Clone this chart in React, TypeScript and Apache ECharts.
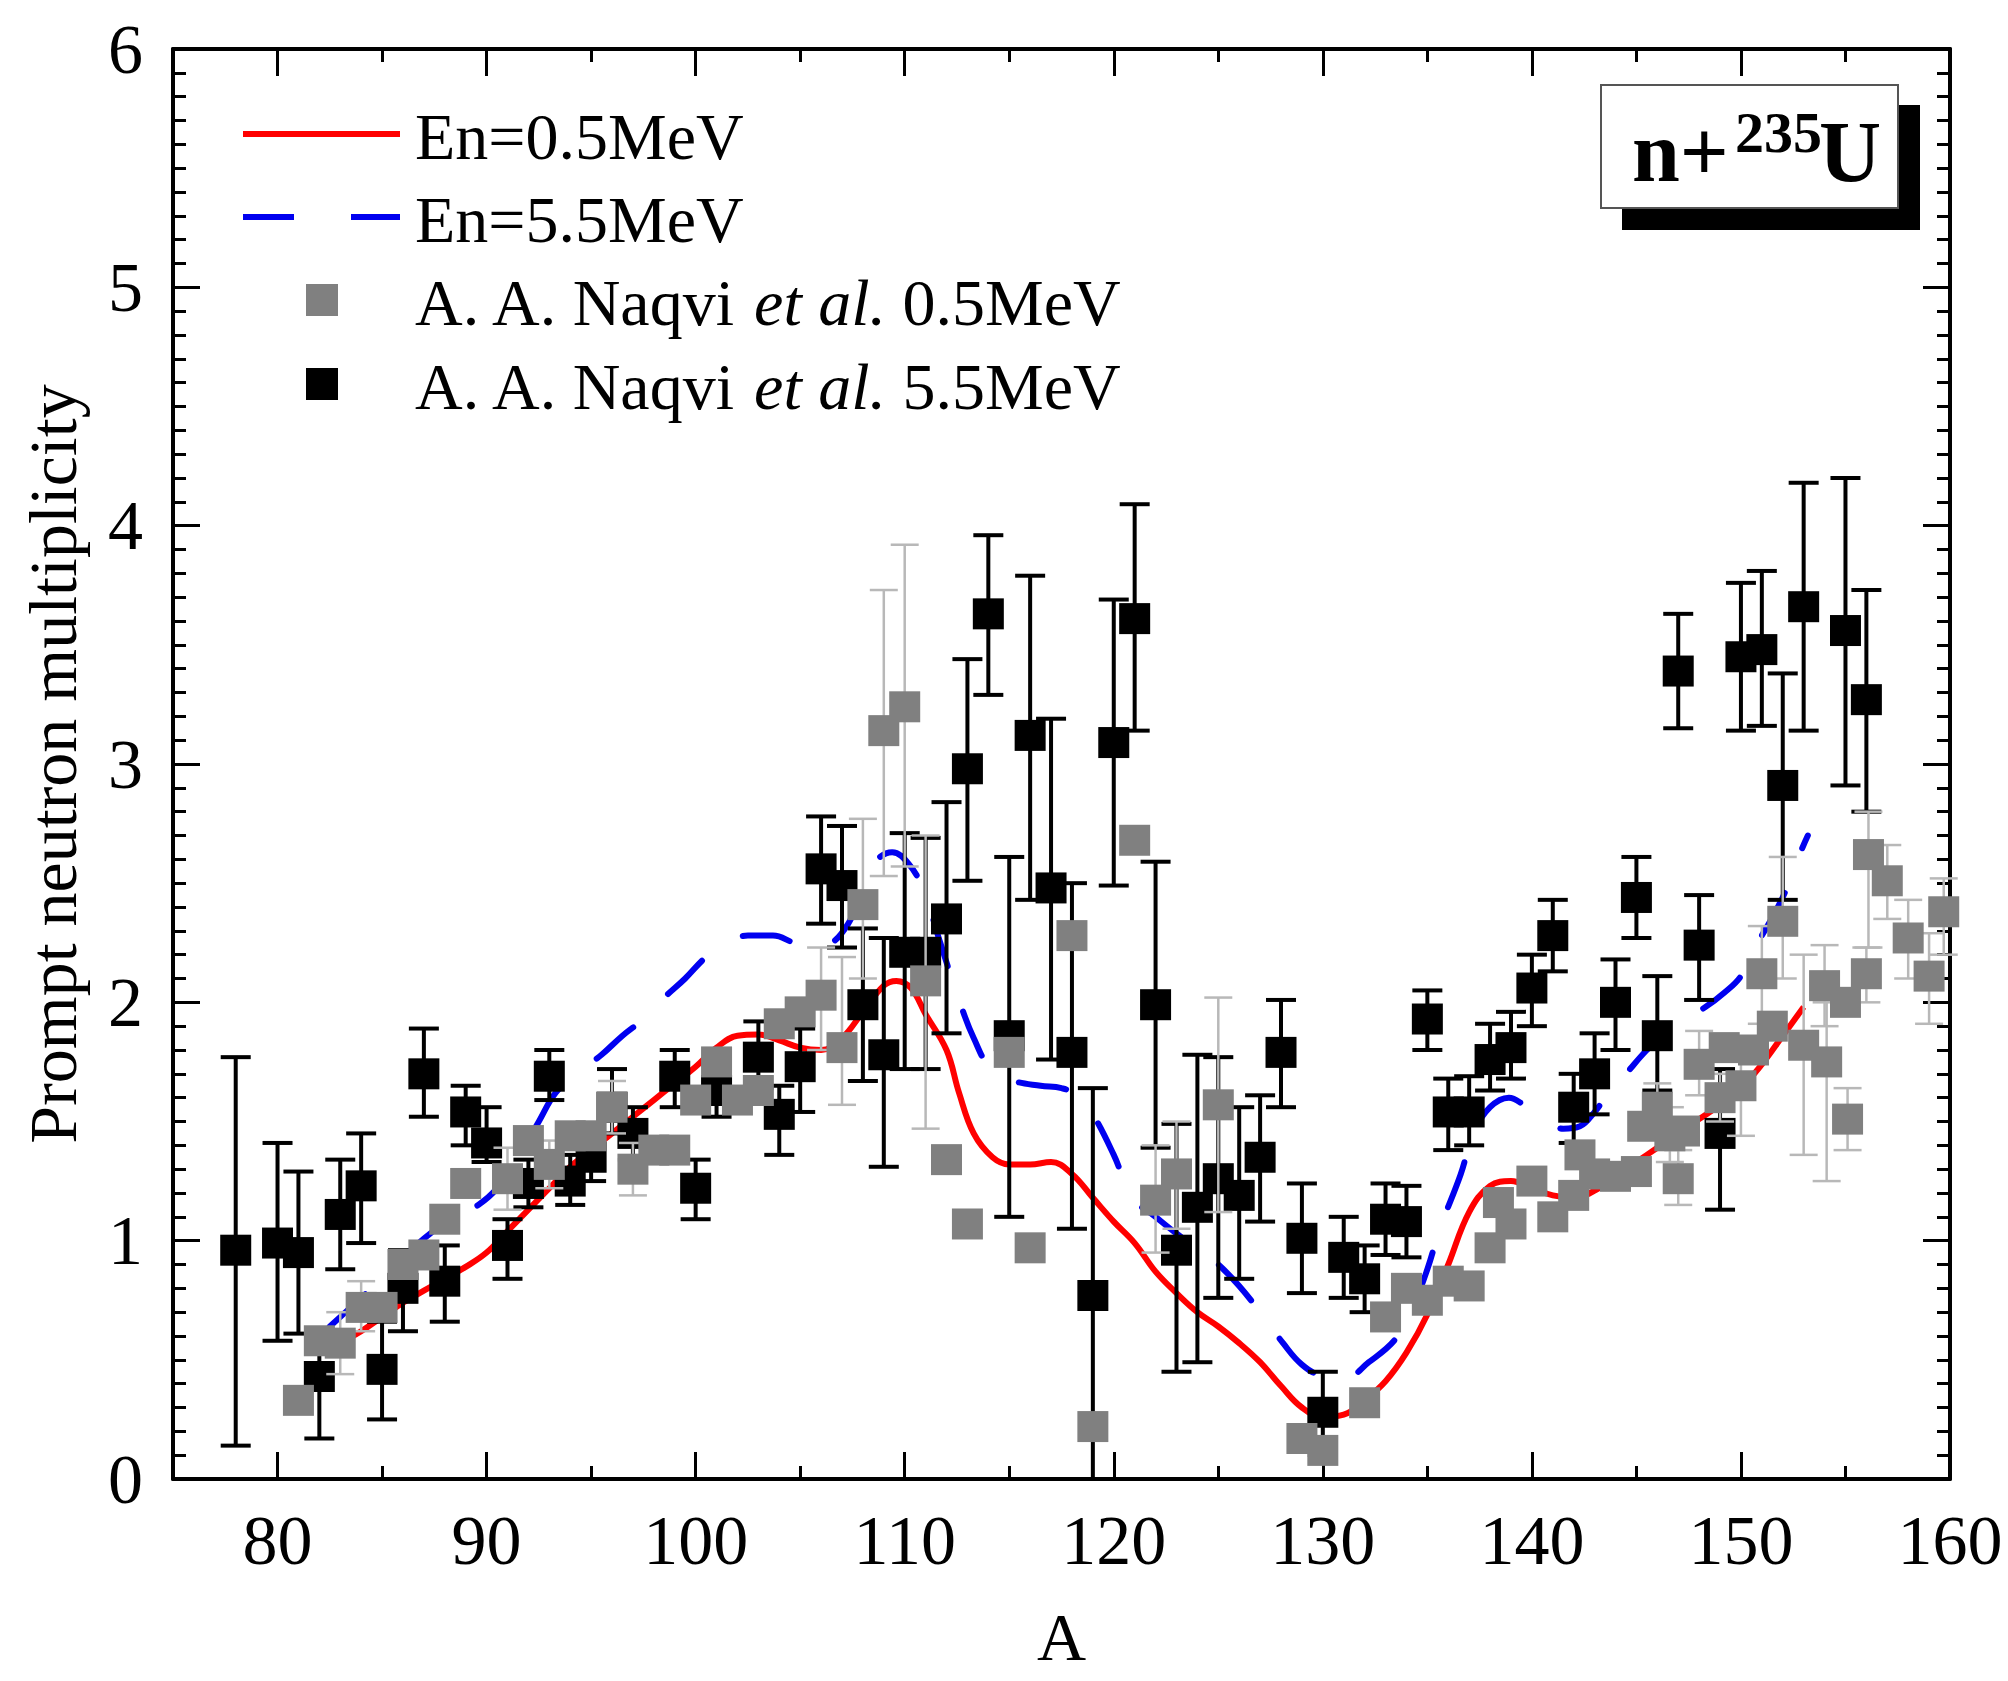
import { useEffect, useRef } from "react";
import * as echarts from "echarts";

const FONT = "'Liberation Serif', 'Times New Roman', serif";

const X_MAJOR = [80, 90, 100, 110, 120, 130, 140, 150, 160];

// En = 0.5 MeV model curve [A, nu]
const redCurve = [
  [82.3, 0.53], [83, 0.57], [84, 0.62], [85, 0.68], [86, 0.74], [87, 0.79], [88, 0.84], [89, 0.89],
  [90, 0.95], [91, 1.04], [92, 1.13], [93, 1.22], [94, 1.31], [95, 1.38], [96, 1.45], [97, 1.52],
  [98, 1.59], [99, 1.66], [100, 1.73], [101, 1.81], [102, 1.86], [103, 1.865], [104, 1.84], [105, 1.81],
  [106, 1.8], [107, 1.85], [108, 1.96], [109, 2.07], [109.6, 2.09], [110.3, 2.06], [111, 1.95],
  [112, 1.8], [112.6, 1.62], [113.3, 1.45], [114.2, 1.35], [115, 1.32], [116, 1.32], [117, 1.33],
  [118, 1.28], [119, 1.18], [120, 1.08], [121, 0.99], [122, 0.87], [123, 0.78], [124, 0.7], [125, 0.64],
  [126, 0.57], [127, 0.49], [128, 0.39], [129, 0.3], [130, 0.26], [131, 0.27], [132, 0.33], [133, 0.41],
  [134, 0.53], [135, 0.69], [136, 0.9], [137, 1.12], [138, 1.23], [139, 1.25], [140, 1.22], [141, 1.19],
  [142, 1.18], [143, 1.21], [144, 1.27], [145, 1.33], [146, 1.39], [147, 1.45], [148, 1.51], [149, 1.57],
  [150, 1.64], [151, 1.74], [152, 1.86], [153, 1.98],
];

// En = 5.5 MeV model curve [A, nu]
const blueCurve = [
  [82.5, 0.64], [83.5, 0.72], [84.5, 0.8], [86, 0.93], [87.3, 1.03], [88.5, 1.1], [89.6, 1.15],
  [90.5, 1.22], [91.5, 1.35], [92.5, 1.5], [93.3, 1.62], [94.3, 1.7], [95.5, 1.78], [96.5, 1.86],
  [97.5, 1.93], [98.5, 2.02], [99.5, 2.1], [100.5, 2.19], [101.5, 2.25], [102.5, 2.28], [103.7, 2.28],
  [104.7, 2.25], [105.5, 2.23], [106.3, 2.24], [107.3, 2.33], [108, 2.48], [108.6, 2.59], [109.4, 2.63],
  [110.2, 2.58], [110.9, 2.47], [111.7, 2.25], [112.6, 2.01], [113.3, 1.85], [114.2, 1.71], [115.2, 1.67],
  [116.5, 1.65], [117.5, 1.64], [118.3, 1.61], [119, 1.53], [120, 1.36], [120.9, 1.18], [122, 1.1],
  [123, 1.03], [124, 0.97], [125, 0.9], [126, 0.81], [127, 0.7], [128.1, 0.57], [129, 0.48], [130, 0.43],
  [131, 0.42], [132.2, 0.49], [133.5, 0.59], [134.3, 0.72], [135, 0.88], [135.6, 1.05], [136.6, 1.28],
  [137.2, 1.45], [138, 1.56], [138.9, 1.6], [139.6, 1.57], [140.5, 1.51], [141.5, 1.47], [142.3, 1.48],
  [143, 1.54], [143.6, 1.61], [144.5, 1.7], [145.5, 1.8], [146.4, 1.87], [147.3, 1.93], [148.3, 1.98],
  [149.2, 2.04], [150, 2.11], [150.6, 2.22], [151.4, 2.34], [152.1, 2.46], [152.9, 2.64], [153.2, 2.7],
];

// A. A. Naqvi et al. 5.5 MeV  [A, nu, low, high]
const naqvi55 = [
  [78, 0.96, 0.14, 1.77], [80, 0.99, 0.58, 1.41], [81, 0.95, 0.61, 1.29], [82, 0.43, 0.17, 0.63],
  [83, 1.11, 0.88, 1.34], [84, 1.23, 0.99, 1.45], [85, 0.46, 0.25, 0.66], [86, 0.8, 0.62, 0.96],
  [87, 1.7, 1.52, 1.89], [88, 0.83, 0.66, 0.98], [89, 1.54, 1.4, 1.65], [90, 1.41, 1.33, 1.56],
  [91, 0.98, 0.84, 1.09], [92, 1.24, 1.14, 1.34], [93, 1.69, 1.59, 1.8], [94, 1.25, 1.15, 1.36],
  [95, 1.35, 1.25, 1.45], [96, 1.56, 1.45, 1.72], [97, 1.45, 1.34, 1.56], [99, 1.69, 1.56, 1.8],
  [100, 1.22, 1.09, 1.34], [101, 1.63, 1.52, 1.74], [103, 1.77, 1.64, 1.92], [104, 1.53, 1.36, 1.65],
  [105, 1.73, 1.54, 1.89], [106, 2.56, 2.33, 2.78], [107, 2.49, 2.23, 2.74], [108, 1.99, 1.67, 2.31],
  [109, 1.78, 1.31, 2.27], [110, 2.21, 1.72, 2.71], [111, 2.21, 1.72, 2.69], [112, 2.35, 1.87, 2.84],
  [113, 2.98, 2.51, 3.44], [114, 3.63, 3.29, 3.96], [115, 1.86, 1.1, 2.61], [116, 3.12, 2.43, 3.79],
  [117, 2.48, 1.76, 3.19], [118, 1.79, 1.05, 2.5], [119, 0.77, 0.0, 1.64], [120, 3.09, 2.49, 3.69],
  [121, 3.61, 3.14, 4.09], [122, 1.99, 1.39, 2.59], [123, 0.96, 0.45, 1.49], [124, 1.14, 0.49, 1.78],
  [125, 1.26, 0.76, 1.77], [126, 1.19, 0.84, 1.56], [127, 1.35, 1.08, 1.61], [128, 1.79, 1.56, 2.01],
  [129, 1.01, 0.78, 1.24], [130, 0.28, 0.1, 0.45], [131, 0.93, 0.76, 1.1], [132, 0.84, 0.7, 0.98],
  [133, 1.09, 0.94, 1.24], [134, 1.08, 0.93, 1.23], [135, 1.93, 1.8, 2.05], [136, 1.54, 1.38, 1.68],
  [137, 1.54, 1.4, 1.69], [138, 1.76, 1.63, 1.91], [139, 1.81, 1.68, 1.96], [140, 2.06, 1.9, 2.2],
  [141, 2.28, 2.13, 2.43], [142, 1.56, 1.41, 1.7], [143, 1.7, 1.53, 1.87], [144, 2.0, 1.8, 2.18],
  [145, 2.44, 2.27, 2.61], [146, 1.86, 1.63, 2.11], [147, 3.39, 3.15, 3.63], [148, 2.24, 2.01, 2.45],
  [149, 1.45, 1.13, 1.72], [150, 3.45, 3.14, 3.76], [151, 3.48, 3.16, 3.81], [152, 2.91, 2.43, 3.38],
  [153, 3.66, 3.14, 4.18], [155, 3.56, 2.91, 4.2], [156, 3.27, 2.8, 3.73],
];

// A. A. Naqvi et al. 0.5 MeV  [A, nu, low, high]
const naqvi05 = [
  [81, 0.33, 0.28, 0.38], [82, 0.58, 0.53, 0.63], [83, 0.57, 0.44, 0.7], [84, 0.72, 0.62, 0.83],
  [85, 0.72, 0.67, 0.77], [86, 0.9, 0.85, 0.95], [87, 0.94, 0.89, 0.99], [88, 1.09, 1.04, 1.14],
  [89, 1.24, 1.19, 1.29], [91, 1.26, 1.13, 1.39], [92, 1.42, 1.37, 1.47], [93, 1.32, 1.22, 1.42],
  [94, 1.44, 1.39, 1.49], [95, 1.44, 1.39, 1.49], [96, 1.56, 1.45, 1.67], [97, 1.3, 1.19, 1.41],
  [98, 1.38, 1.33, 1.43], [99, 1.38, 1.33, 1.43], [100, 1.59, 1.54, 1.64], [101, 1.75, 1.7, 1.8],
  [102, 1.59, 1.54, 1.64], [103, 1.63, 1.58, 1.68], [104, 1.91, 1.86, 1.96], [105, 1.96, 1.91, 2.01],
  [106, 2.03, 1.8, 2.23], [107, 1.81, 1.57, 2.19], [108, 2.41, 2.1, 2.77], [109, 3.14, 2.53, 3.73],
  [110, 3.24, 2.57, 3.92], [111, 2.09, 1.47, 2.7], [112, 1.34, 1.29, 1.39], [113, 1.07, 1.02, 1.12],
  [115, 1.79, 1.74, 1.84], [116, 0.97, 0.92, 1.02], [118, 2.28, 2.23, 2.33], [119, 0.22, 0.17, 0.27],
  [121, 2.68, 2.63, 2.73], [122, 1.17, 0.95, 1.4], [123, 1.28, 1.05, 1.5], [125, 1.57, 1.12, 2.02],
  [129, 0.17, 0.12, 0.22], [130, 0.12, 0.07, 0.17], [132, 0.32, 0.27, 0.37], [133, 0.68, 0.63, 0.73],
  [134, 0.8, 0.75, 0.85], [135, 0.75, 0.7, 0.8], [136, 0.83, 0.78, 0.88], [137, 0.81, 0.76, 0.86],
  [138, 0.97, 0.92, 1.02], [138.4, 1.16, 1.11, 1.21], [139, 1.07, 1.02, 1.12], [140, 1.25, 1.2, 1.3],
  [141, 1.1, 1.05, 1.15], [142, 1.19, 1.14, 1.24], [142.3, 1.36, 1.31, 1.41], [143, 1.28, 1.23, 1.33],
  [144, 1.27, 1.22, 1.32], [145, 1.29, 1.24, 1.34], [145.3, 1.48, 1.43, 1.53], [146, 1.56, 1.46, 1.66],
  [146.6, 1.44, 1.33, 1.56], [147, 1.26, 1.15, 1.38], [147.3, 1.46, 1.41, 1.51], [148, 1.74, 1.61, 1.88],
  [149, 1.6, 1.5, 1.7], [149.2, 1.81, 1.76, 1.86], [150, 1.65, 1.44, 1.83], [150.6, 1.8, 1.75, 1.85],
  [151, 2.12, 1.91, 2.32], [151.5, 1.9, 1.85, 1.95], [152, 2.34, 2.1, 2.61], [153, 1.82, 1.36, 2.2],
  [154, 2.07, 1.9, 2.24], [154.1, 1.75, 1.25, 2.0], [155, 2.0, 1.95, 2.05], [155.1, 1.51, 1.38, 1.64],
  [156, 2.12, 2.0, 2.23], [156.1, 2.62, 2.23, 2.8], [157, 2.51, 2.35, 2.66], [158, 2.27, 2.1, 2.43],
  [159, 2.11, 1.91, 2.29], [159.7, 2.38, 2.2, 2.52],
];

const tickStyle = { color: "#000", width: 3 };

function errorBars(color: string, width: number, capHalf: number) {
  return (_params: any, api: any) => {
    const x = api.value(0);
    const lo = api.coord([x, api.value(2)]);
    const hi = api.coord([x, api.value(3)]);
    const style = { stroke: color, lineWidth: width };
    return {
      type: "group",
      children: [
        { type: "line", shape: { x1: lo[0], y1: lo[1], x2: hi[0], y2: hi[1] }, style },
        { type: "line", shape: { x1: lo[0] - capHalf, y1: lo[1], x2: lo[0] + capHalf, y2: lo[1] }, style },
        { type: "line", shape: { x1: hi[0] - capHalf, y1: hi[1], x2: hi[0] + capHalf, y2: hi[1] }, style },
      ],
    };
  };
}

function xAxisDef(position: "bottom" | "top", major: boolean, labels: boolean): any {
  return {
    type: "value",
    position,
    min: 75,
    max: 160,
    ...(major ? {} : { interval: 5 }),
    axisLine: { show: !major, onZero: false, lineStyle: { color: "#000", width: 4 } },
    axisTick: major
      ? { show: true, inside: true, length: 27, customValues: X_MAJOR, lineStyle: tickStyle }
      : { show: true, inside: true, length: 13, lineStyle: tickStyle },
    axisLabel: labels
      ? {
          show: true,
          formatter: (v: number) => (v % 10 === 0 ? String(v) : ""),
          fontSize: 70,
          fontFamily: FONT,
          color: "#000",
          margin: 26,
        }
      : { show: false },
    splitLine: { show: false },
    ...(labels
      ? {
          name: "A",
          nameLocation: "middle",
          nameGap: 124,
          nameTextStyle: { fontSize: 68, fontFamily: FONT, color: "#000" },
        }
      : {}),
  };
}

function yAxisDef(position: "left" | "right", labels: boolean): any {
  return {
    type: "value",
    position,
    min: 0,
    max: 6,
    interval: 1,
    axisLine: { show: true, onZero: false, lineStyle: { color: "#000", width: 4 } },
    axisTick: { show: true, inside: true, length: 27, lineStyle: tickStyle },
    minorTick: { show: true, splitNumber: 10, length: 13, lineStyle: tickStyle },
    axisLabel: labels
      ? { show: true, fontSize: 70, fontFamily: FONT, color: "#000", margin: 30 }
      : { show: false },
    splitLine: { show: false },
    minorSplitLine: { show: false },
    ...(labels
      ? {
          name: "Prompt neutron multiplicity",
          nameLocation: "middle",
          nameGap: 86,
          nameRotate: 90,
          nameTextStyle: { fontSize: 68, fontFamily: FONT, color: "#000" },
        }
      : {}),
  };
}

const legendText = (text: string, y: number) => ({
  type: "text",
  x: 415,
  y,
  z: 100,
  style: {
    text,
    fontSize: 66,
    fontFamily: FONT,
    fill: "#000",
    textAlign: "left",
    textVerticalAlign: "middle",
    align: "left",
    verticalAlign: "middle",
    rich: {
      n: { fontSize: 66, fontFamily: FONT, fill: "#000" },
      i: { fontSize: 66, fontFamily: FONT, fontStyle: "italic", fill: "#000" },
    },
  },
});

const boxText = (text: string, x: number, y: number, size: number) => ({
  type: "text",
  z: 102,
  x,
  y,
  style: {
    text,
    fontSize: size,
    fontWeight: "bold",
    fontFamily: FONT,
    fill: "#000",
    textAlign: "left",
    textVerticalAlign: "middle",
    align: "left",
    verticalAlign: "middle",
  },
});

export default function App() {
  const chartRef = useRef<HTMLDivElement>(null);

  useEffect(() => {
    document.body.style.margin = "0";
    if (!chartRef.current) return;
    const chart = echarts.init(chartRef.current, undefined, { renderer: "svg" });

    const option: any = {
      animation: false,
      backgroundColor: "#fff",
      grid: { left: 173, right: 58, top: 49, bottom: 202, containLabel: false, outerBoundsMode: "none" },
      xAxis: [
        xAxisDef("bottom", false, true),
        xAxisDef("bottom", true, false),
        xAxisDef("top", false, false),
        xAxisDef("top", true, false),
      ],
      yAxis: [yAxisDef("left", true), yAxisDef("right", false)],
      series: [
        {
          name: "En=0.5MeV",
          type: "line",
          data: redCurve,
          smooth: 0.4,
          symbol: "none",
          z: 2,
          lineStyle: { color: "#ff0000", width: 6 },
        },
        {
          name: "En=5.5MeV",
          type: "line",
          data: blueCurve,
          smooth: 0.4,
          symbol: "none",
          z: 2,
          lineStyle: { color: "#0000f0", width: 6, type: [48, 48], cap: "round" },
        },
        {
          name: "naqvi55-err",
          type: "custom",
          data: naqvi55,
          encode: { x: 0, y: 1 },
          renderItem: errorBars("#000", 4, 15),
          z: 3,
        },
        {
          name: "A. A. Naqvi et al. 5.5MeV",
          type: "scatter",
          data: naqvi55.map((d) => [d[0], d[1]]),
          symbol: "rect",
          symbolSize: 31,
          itemStyle: { color: "#000", opacity: 1 },
          z: 4,
        },
        {
          name: "naqvi05-err",
          type: "custom",
          data: naqvi05,
          encode: { x: 0, y: 1 },
          renderItem: errorBars("#b8b8b8", 2.5, 14),
          z: 5,
        },
        {
          name: "A. A. Naqvi et al. 0.5MeV",
          type: "scatter",
          data: naqvi05.map((d) => [d[0], d[1]]),
          symbol: "rect",
          symbolSize: 31,
          itemStyle: { color: "#808080", opacity: 1 },
          z: 6,
        },
      ],
      graphic: [
        // legend
        { type: "line", z: 100, shape: { x1: 243, y1: 134, x2: 400, y2: 134 }, style: { stroke: "#ff0000", lineWidth: 6 } },
        legendText("En=0.5MeV", 136),
        { type: "line", z: 100, shape: { x1: 243, y1: 217, x2: 400, y2: 217 }, style: { stroke: "#0000f0", lineWidth: 6, lineDash: [51, 57] } },
        legendText("En=5.5MeV", 219),
        { type: "rect", z: 100, shape: { x: 306, y: 284, width: 32, height: 32 }, style: { fill: "#808080" } },
        legendText("{n|A. A. Naqvi }{i|et al.}{n| 0.5MeV}", 302),
        { type: "rect", z: 100, shape: { x: 306, y: 368, width: 32, height: 32 }, style: { fill: "#000" } },
        legendText("{n|A. A. Naqvi }{i|et al.}{n| 5.5MeV}", 386),
        // reaction label box with shadow
        { type: "rect", z: 100, shape: { x: 1622, y: 105, width: 298, height: 125 }, style: { fill: "#000" } },
        { type: "rect", z: 101, shape: { x: 1601, y: 85, width: 297, height: 123 }, style: { fill: "#fff", stroke: "#555", lineWidth: 2 } },
        boxText("n+", 1632, 152, 86),
        boxText("235", 1735, 132, 58),
        boxText("U", 1819, 152, 86),
      ],
    };

    chart.setOption(option);
    return () => {
      chart.dispose();
    };
  }, []);

  return <div ref={chartRef} style={{ width: 2008, height: 1681 }} />;
}
